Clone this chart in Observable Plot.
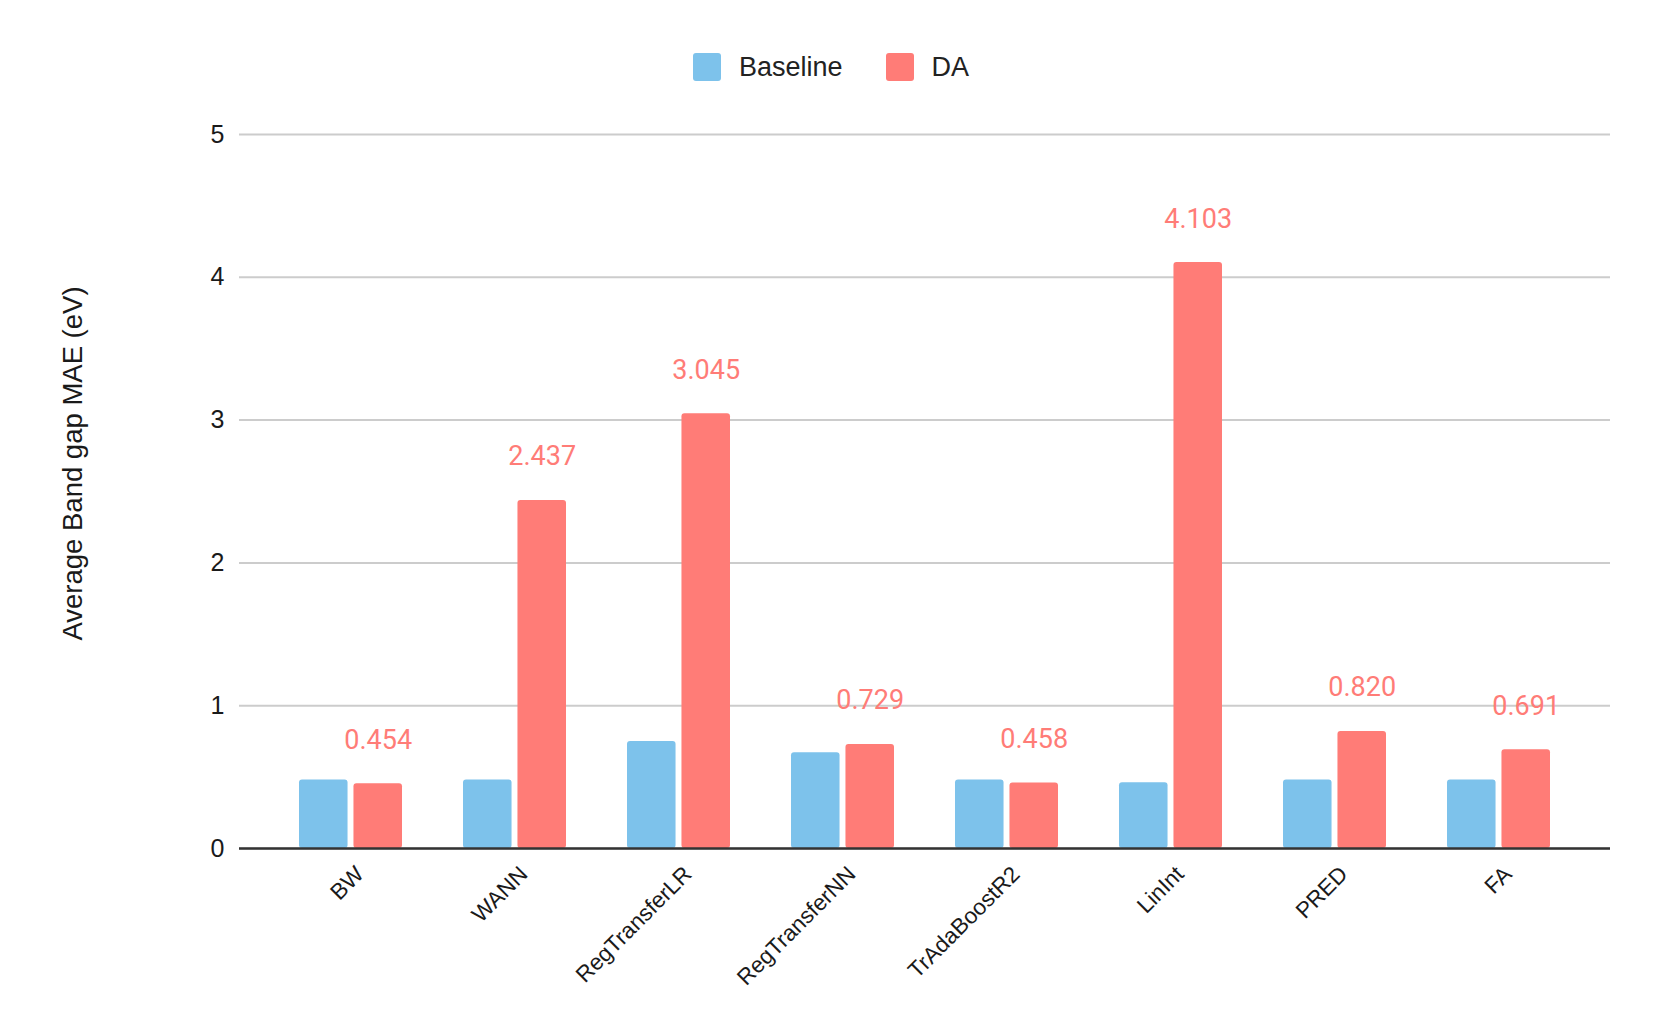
<!DOCTYPE html>
<html><head><meta charset="utf-8">
<script src="https://cdn.jsdelivr.net/npm/d3@7"></script>
<script src="https://cdn.jsdelivr.net/npm/@observablehq/plot@0.6"></script>
<style>
body{margin:0;background:#fff;}
#wrap{position:relative;width:1661px;height:1035px;}
#legend{position:absolute;left:693px;top:53px;height:28px;display:flex;align-items:center;font-family:"Liberation Sans",Arial,sans-serif;font-size:27px;color:#222;}
.sw{width:28px;height:28px;border-radius:3px;margin-right:18px;flex:none}
.lt{margin-right:43px;white-space:nowrap}
</style></head><body>
<div id="wrap"><div id="chart"></div><div id="legend"></div></div>
<script>
const categories = ["BW","WANN","RegTransferLR","RegTransferNN","TrAdaBoostR2","LinInt","PRED","FA"];
const series = ["Baseline","DA"];
const baselineValues = [0.48,0.48,0.75,0.67,0.48,0.46,0.48,0.48];
const daValues = [0.454,2.437,3.045,0.729,0.458,4.103,0.820,0.691];
const colors = ["#7dc2eb","#ff7c77"];
const yTicks = [0,1,2,3,4,5];
const yLabel = "Average Band gap MAE (eV)";

const baselineRows = categories.map((c,i)=>({category:c, series:series[0], value:baselineValues[i]}));
const daRows = categories.map((c,i)=>({category:c, series:series[1], value:daValues[i]}));

const W = 1661, H = 1035, mL = 239, mR = 51, mT = 134, mB = 187;
const padIn = 0.369, padOut = 0.347;
const step = (W - mL - mR) / (categories.length - padIn + 2 * padOut);
const band = step * (1 - padIn);
const gap = 5;
const barW = (band - gap) / 2;

const plot = Plot.plot({
  width:W, height:H,
  marginTop:mT, marginBottom:mB, marginLeft:mL, marginRight:mR,
  style:{fontFamily:"Liberation Sans, Arial, sans-serif", background:"white"},
  x:{domain:categories, paddingInner:padIn, paddingOuter:padOut, label:null},
  y:{domain:[0,5], label:null},
  marks:[
    Plot.gridY(yTicks, {stroke:"#cccccc", strokeWidth:2, strokeOpacity:1}),
    Plot.barY(baselineRows, {x:"category", y:"value", fill:colors[0], insetRight:band - barW, rx:3}),
    Plot.barY(daRows, {x:"category", y:"value", fill:colors[1], insetLeft:band - barW, rx:3}),
    Plot.ruleY([0], {stroke:"#333", strokeWidth:2.5}),
    Plot.text(daRows, {x:"category", y:"value", text:d=>d.value.toFixed(3), dx:(band - barW)/2, dy:-35, lineAnchor:"bottom", fill:colors[1], fontSize:27, fontFamily:"Roboto"}),
    Plot.axisY({ticks:yTicks, tickSize:0, tickPadding:15, fontSize:25, label:null, tickFormat:d=>String(d), color:"#1a1a1a"}),
    Plot.axisX({tickRotate:-45, tickSize:0, tickPadding:22, dx:9, fontSize:22.5, label:null, color:"#1a1a1a"}),
    Plot.text([yLabel], {text:d=>d, frameAnchor:"left", textAnchor:"middle", rotate:-90, dx:-166, dy:-28, fontSize:27.5, fill:"#1a1a1a"})
  ]
});
document.getElementById("chart").appendChild(plot);

const legend = document.getElementById("legend");
series.forEach((s,i)=>{
  const sw = document.createElement("div"); sw.className="sw"; sw.style.background=colors[i];
  const t = document.createElement("div"); t.className="lt"; t.textContent=s;
  legend.appendChild(sw); legend.appendChild(t);
});
</script>
</body></html>
